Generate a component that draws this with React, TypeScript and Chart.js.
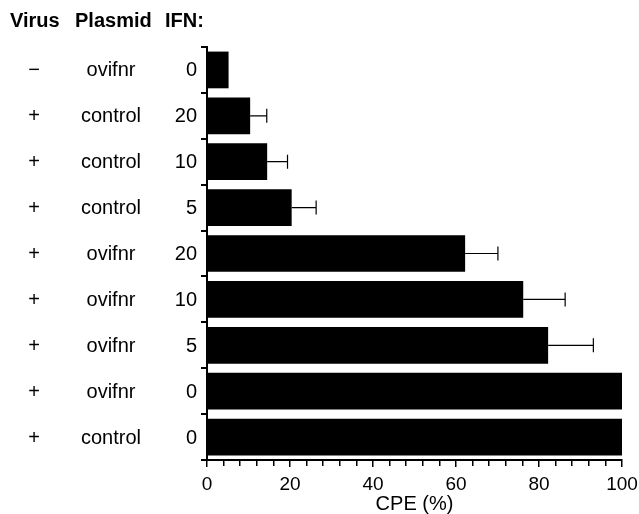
import React, { useEffect, useRef } from "react";
import { Chart, registerables } from "chart.js";

Chart.register(...registerables);

const virus = ["−", "+", "+", "+", "+", "+", "+", "+", "+"];
const plasmid = ["ovifnr", "control", "control", "control", "ovifnr", "ovifnr", "ovifnr", "ovifnr", "control"];
const ifn = ["0", "20", "10", "5", "20", "10", "5", "0", "0"];
const cpe = [5.2, 10.4, 14.5, 20.4, 62.2, 76.2, 82.2, 100, 100];
const cpeErr = [0, 4.0, 4.9, 5.9, 7.9, 10.1, 10.9, 0, 0];
const headers = ["Virus", "Plasmid", "IFN:"];
const xTitle = "CPE (%)";

const FONT = '"Liberation Sans", Arial, Helvetica, sans-serif';

const errorBars = {
  id: "errorBars",
  afterDatasetsDraw(chart: any) {
    const ctx = chart.ctx;
    const xs = chart.scales.x;
    const meta = chart.getDatasetMeta(0);
    ctx.save();
    ctx.strokeStyle = "#000";
    ctx.lineWidth = 1.2;
    meta.data.forEach((bar: any, i: number) => {
      const e = cpeErr[i];
      if (!e) return;
      const x0 = xs.getPixelForValue(cpe[i]);
      const x1 = xs.getPixelForValue(cpe[i] + e);
      const y = bar.y;
      ctx.beginPath();
      ctx.moveTo(x0, y);
      ctx.lineTo(x1, y);
      ctx.moveTo(x1, y - 7);
      ctx.lineTo(x1, y + 7);
      ctx.stroke();
    });
    ctx.restore();
  },
};

const rowLabels = {
  id: "rowLabels",
  afterDraw(chart: any) {
    const ctx = chart.ctx;
    const ys = chart.scales.y;
    const left = chart.chartArea.left;
    ctx.save();
    ctx.fillStyle = "#000";
    ctx.textBaseline = "middle";
    ctx.font = `20px ${FONT}`;
    for (let i = 0; i < virus.length; i++) {
      const y = ys.getPixelForValue(i) + 1;
      ctx.textAlign = "center";
      ctx.fillText(virus[i], left - 173, y);
      ctx.fillText(plasmid[i], left - 96, y);
      ctx.textAlign = "right";
      ctx.fillText(ifn[i], left - 10, y);
    }
    ctx.font = `bold 20px ${FONT}`;
    ctx.textAlign = "left";
    const hx = [left - 197, left - 132, left - 42];
    headers.forEach((h, i) => ctx.fillText(h, hx[i], 21));
    ctx.restore();
  },
};

export default function App() {
  const ref = useRef<HTMLCanvasElement>(null);
  useEffect(() => {
    if (!ref.current) return;
    const chart = new Chart(ref.current, {
      type: "bar",
      data: {
        labels: virus.map((v, i) => `${v} ${plasmid[i]} ${ifn[i]}`),
        datasets: [
          {
            data: cpe,
            backgroundColor: "#000",
            borderWidth: 0,
            barPercentage: 0.8,
            categoryPercentage: 1,
          },
        ],
      },
      options: {
        indexAxis: "y",
        animation: false,
        responsive: true,
        maintainAspectRatio: false,
        layout: { padding: { left: 0, top: 47, right: 17, bottom: 0 } },
        plugins: { legend: { display: false }, tooltip: { enabled: false } },
        scales: {
          y: {
            type: "category",
            ticks: { display: false },
            grid: {
              offset: true,
              drawOnChartArea: false,
              drawTicks: true,
              tickLength: 6,
              color: "#000",
              lineWidth: 2,
            },
            border: { display: true, color: "#000", width: 2 },
            afterFit(scale: any) {
              scale.width = 207;
              scale.paddingTop = 0;
              scale.paddingBottom = 0;
            },
          },
          x: {
            type: "linear",
            min: 0,
            max: 100,
            ticks: {
              stepSize: 4,
              autoSkip: false,
              maxRotation: 0,
              color: "#000",
              padding: 6,
              font: { family: FONT, size: 19 },
              callback: (v: any) => (Number(v) % 20 === 0 ? String(v) : ""),
            },
            grid: {
              drawOnChartArea: false,
              drawTicks: true,
              tickLength: 7,
              color: "#000",
              lineWidth: 1.5,
              tickBorderDash: (c: any) =>
                c.tick && Number(c.tick.value) % 20 === 0 ? [] : [5, 50],
            },
            border: { display: true, color: "#000", width: 2 },
            title: {
              display: true,
              text: xTitle,
              color: "#000",
              font: { family: FONT, size: 20, lineHeight: 1 },
              padding: { top: 0, bottom: 0 },
            },
            afterFit(scale: any) {
              scale.height = 54;
              scale.paddingLeft = 0;
              scale.paddingRight = 0;
            },
          },
        },
      },
      plugins: [errorBars, rowLabels],
    });
    return () => chart.destroy();
  }, []);
  return (
    <div style={{ position: "fixed", left: 0, top: 0, width: 639, height: 514, background: "#fff" }}>
      <canvas ref={ref} />
    </div>
  );
}
